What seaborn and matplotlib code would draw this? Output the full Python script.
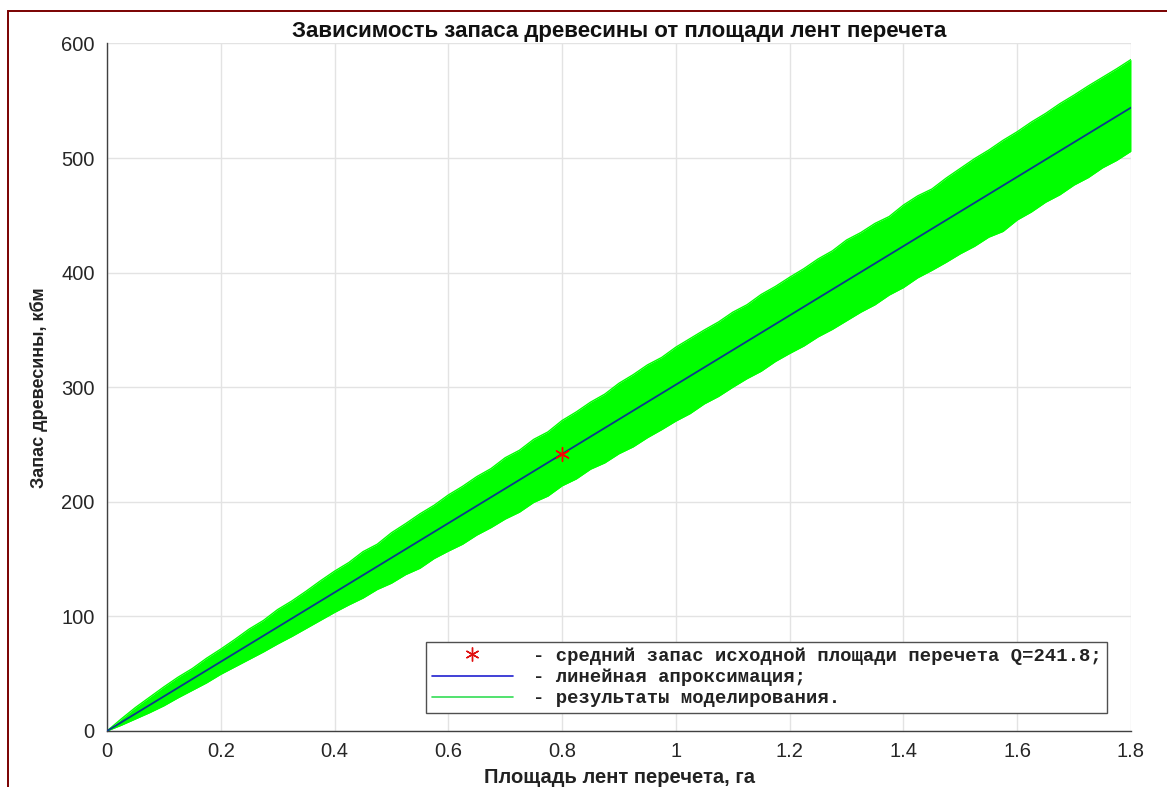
import numpy as np
import pandas as pd
import matplotlib
matplotlib.use("Agg")
import matplotlib.pyplot as plt
from matplotlib.lines import Line2D
from matplotlib.patches import Rectangle
import seaborn as sns

# ---------------- data ----------------
area = [0.000, 0.025, 0.050, 0.075, 0.100, 0.125, 0.150, 0.175, 0.200, 0.225,
        0.250, 0.275, 0.300, 0.325, 0.350, 0.375, 0.400, 0.425, 0.450, 0.475,
        0.500, 0.525, 0.550, 0.575, 0.600, 0.625, 0.650, 0.675, 0.700, 0.725,
        0.750, 0.775, 0.800, 0.825, 0.850, 0.875, 0.900, 0.925, 0.950, 0.975,
        1.000, 1.025, 1.050, 1.075, 1.100, 1.125, 1.150, 1.175, 1.200, 1.225,
        1.250, 1.275, 1.300, 1.325, 1.350, 1.375, 1.400, 1.425, 1.450, 1.475,
        1.500, 1.525, 1.550, 1.575, 1.600, 1.625, 1.650, 1.675, 1.700, 1.725,
        1.750, 1.775, 1.800]
sim_upper = [0.0, 10.5, 20.5, 29.5, 38.5, 47.0, 54.5, 63.5, 71.5, 80.0,
             89.0, 96.5, 106.0, 113.5, 122.0, 131.0, 139.5, 147.0, 156.5, 163.0,
             173.0, 181.0, 189.5, 197.0, 206.0, 213.5, 222.0, 229.0, 238.5, 245.0,
             254.5, 261.0, 271.0, 278.5, 287.0, 294.0, 303.5, 311.0, 319.5, 326.0,
             335.0, 342.5, 350.0, 357.0, 365.5, 372.0, 381.0, 388.0, 396.0, 403.5,
             412.0, 419.0, 428.5, 435.0, 443.0, 449.0, 459.0, 467.0, 473.0, 482.5,
             491.0, 499.5, 507.0, 515.5, 523.0, 531.5, 539.0, 547.5, 555.0, 563.0,
             570.5, 578.0, 586.0]
sim_lower = [0.0, 5.0, 10.5, 16.0, 22.0, 29.0, 35.5, 42.0, 49.5, 56.0,
             62.5, 69.0, 76.0, 82.5, 89.5, 96.5, 103.5, 110.0, 116.0, 123.5,
             129.0, 136.5, 142.0, 150.5, 157.0, 163.0, 171.0, 177.5, 185.0, 191.0,
             199.5, 205.0, 214.0, 220.0, 228.5, 234.0, 242.0, 248.0, 256.0, 263.0,
             270.5, 277.0, 285.5, 292.0, 300.0, 307.5, 314.0, 322.5, 329.5, 336.0,
             344.0, 350.5, 358.0, 365.5, 372.0, 380.5, 387.0, 395.5, 402.0, 409.0,
             416.5, 423.0, 431.0, 436.0, 446.0, 453.0, 461.5, 468.0, 476.5, 483.0,
             491.5, 498.0, 506.0]
fit_area = [0.0, 1.8]
fit_stock = [0.0, 544.05]
base_area = [0.8]
base_stock = [241.8]

x_ticks = [0, 0.2, 0.4, 0.6, 0.8, 1, 1.2, 1.4, 1.6, 1.8]
x_tick_labels = ["0", "0.2", "0.4", "0.6", "0.8", "1", "1.2", "1.4", "1.6", "1.8"]
y_ticks = [0, 100, 200, 300, 400, 500, 600]

title = "Зависимость запаса древесины от площади лент перечета"
xlabel = "Площадь лент перечета, га"
ylabel = "Запас древесины, кбм"
legend_labels = ["- средний запас исходной площади перечета Q=241.8;",
                 "- линейная апроксимация;",
                 "- результаты моделирования."]

# ---------------- styling ----------------
sns.set_theme(style="whitegrid")
plt.rcParams["font.family"] = ["Liberation Sans", "DejaVu Sans"]

W, H = 1167, 787
fig = plt.figure(figsize=(W / 100, H / 100), dpi=100)
fig.patch.set_facecolor("white")
ax = fig.add_axes([107 / W, 1 - 731 / H, (1131 - 107) / W, (731 - 43.5) / H])
ax.set_facecolor("white")

sim = pd.DataFrame({"area": area, "upper": sim_upper, "lower": sim_lower})
fit = pd.DataFrame({"area": fit_area, "stock": fit_stock})
base = pd.DataFrame({"area": base_area, "stock": base_stock})

green = "#00ff00"
ax.fill_between(sim["area"], sim["lower"], sim["upper"], color=green, lw=0, zorder=2)
sns.lineplot(data=sim, x="area", y="upper", color=green, lw=1.0, ax=ax, zorder=2)
sns.lineplot(data=sim, x="area", y="lower", color=green, lw=1.0, ax=ax, zorder=2)
sns.lineplot(data=fit, x="area", y="stock", color="#0b3a8c", lw=1.3, ax=ax, zorder=3)
sns.scatterplot(data=base, x="area", y="stock", marker=(6, 2, 0), s=100, color="red",
                edgecolor="#e01010", linewidth=1.0, ax=ax, zorder=4)

ax.set_xlim(0, 1.8)
ax.set_ylim(0, 600)
ax.set_xticks(x_ticks)
ax.set_xticklabels(x_tick_labels)
ax.set_yticks(y_ticks)

ax.grid(True, color="#e3e3e3", lw=1.0)
ax.set_axisbelow(True)
for side in ("top", "right"):
    ax.spines[side].set_visible(False)
for side in ("left", "bottom"):
    ax.spines[side].set_visible(True)
    ax.spines[side].set_color("#404040")
    ax.spines[side].set_linewidth(1.0)
ax.tick_params(axis="both", direction="in", length=6, width=1.0, color="#404040",
               labelsize=14.5, labelcolor="#262626")
ax.tick_params(axis="x", pad=8)
ax.tick_params(axis="y", pad=9)

ax.set_title(title, fontsize=16, fontweight="bold", color="#111111", pad=5)
ax.set_xlabel(xlabel, fontsize=14.5, fontweight="bold", color="#222222", labelpad=5)
ax.set_ylabel(ylabel, fontsize=13, fontweight="bold", color="#222222", labelpad=9)

handles = [
    Line2D([], [], linestyle="none", marker=(6, 2, 0), markersize=10,
           markeredgewidth=1.0, color="#e01010"),
    Line2D([], [], color="#2020d0", lw=1.2),
    Line2D([], [], color="#33dd55", lw=1.2),
]
leg = ax.legend(handles, legend_labels, loc="lower right",
                bbox_to_anchor=((1107 - 107) / 1024, (731 - 713) / 687),
                borderaxespad=0, fancybox=False, framealpha=1, frameon=True,
                handlelength=4.3, handletextpad=1.05, labelspacing=0.2,
                borderpad=0.3,
                prop={"family": ["Liberation Mono", "DejaVu Sans Mono"],
                      "weight": "bold", "size": 13.6})
leg.get_frame().set_edgecolor("#505050")
leg.get_frame().set_linewidth(1.0)
for t in leg.get_texts():
    t.set_color("#222222")

# dark red page border (left and top edges visible)
fig.add_artist(Rectangle((8 / W, -0.2), 1.2, 1.2 - 11 / H,
                         transform=fig.transFigure, fill=False,
                         edgecolor="#7a0000", lw=1.4))

fig.savefig("out.png", dpi=100, facecolor="white")
